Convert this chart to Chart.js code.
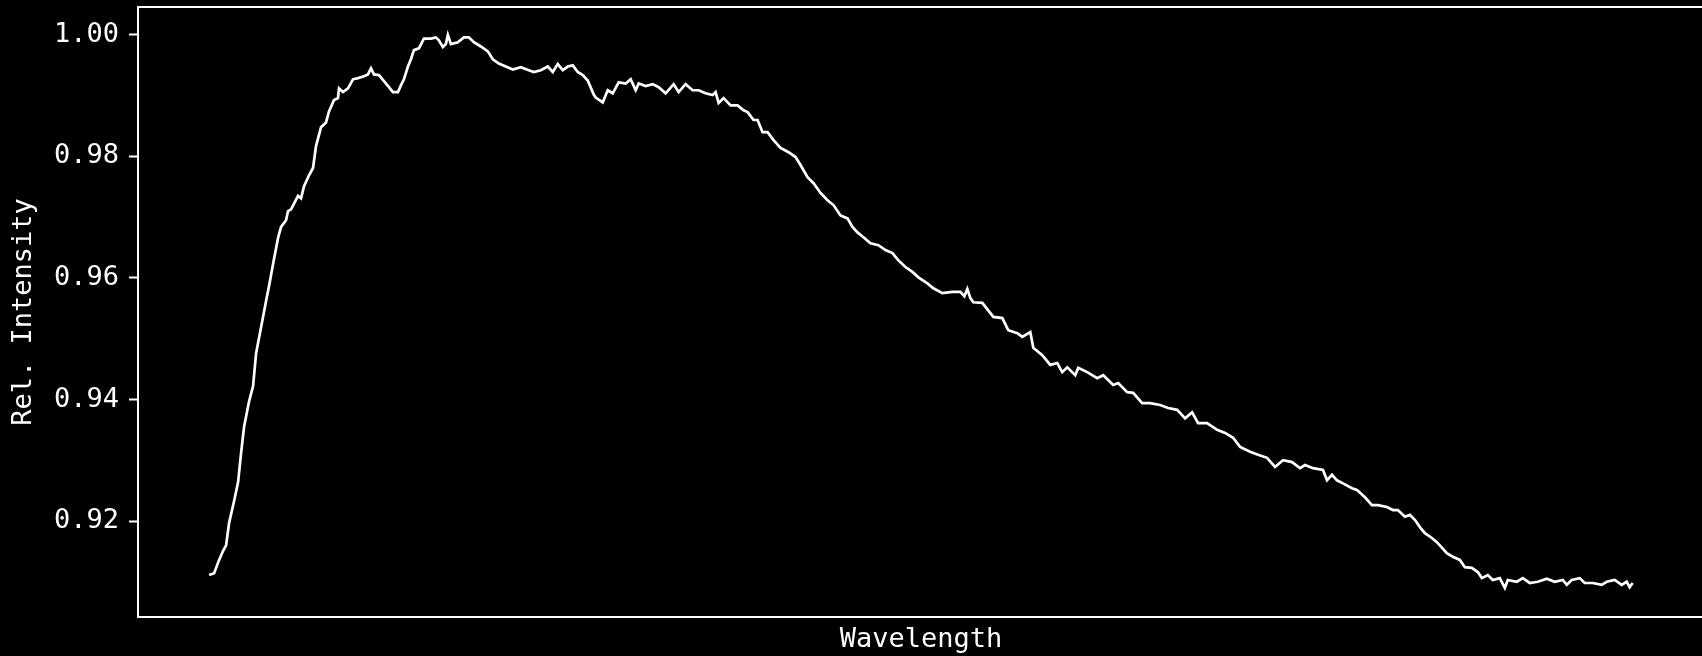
<!DOCTYPE html>
<html>
<head>
<meta charset="utf-8">
<title>Relative intensity spectrum</title>
<script src="https://cdn.jsdelivr.net/npm/chart.js@4/dist/chart.umd.min.js"></script>
<style>
  html, body { margin: 0; padding: 0; background: #000; overflow: hidden; }
  #wrap { width: 1706px; height: 656px; position: relative; }
</style>
</head>
<body>
<div id="wrap"><canvas id="spectrum"></canvas></div>
<script>
// Sampled spectrum: wavelength (nm) and intensity normalised to the peak.
const wavelength = [
  400.0, 401.25, 402.5, 403.5, 404.25, 405.0, 406.25, 407.25, 408.0, 408.75,
  410.0, 411.0, 411.75, 413.0, 414.25, 415.0, 416.0, 417.25, 418.0, 419.25,
  419.75, 420.5, 422.25, 423.0, 423.75, 425.0, 426.0, 426.75, 428.0, 429.25,
  430.0, 431.25, 432.25, 432.5, 433.5, 434.75, 436.0, 437.25, 438.75, 439.75,
  440.5, 441.25, 442.5, 443.75, 445.0, 446.0, 447.25, 448.0, 448.75, 449.75,
  450.5, 451.25, 452.5, 453.75, 455.5, 456.75, 457.5, 458.5, 459.25, 459.75,
  460.5, 462.25, 463.75, 465.0, 466.25, 468.0, 469.75, 471.0, 472.5, 474.25,
  476.0, 478.0, 480.0, 481.25, 483.0, 484.75, 486.0, 487.25, 488.5, 489.75,
  491.0, 492.25, 493.5, 494.75, 496.25, 496.75, 498.5, 499.75, 501.0, 502.5,
  504.25, 505.5, 506.75, 507.5, 509.25, 511.0, 512.5, 514.25, 516.25, 517.5,
  519.25, 521.0, 522.5, 524.25, 526.0, 526.75, 527.5, 528.75, 530.5, 532.25,
  533.75, 534.75, 536.25, 537.25, 538.5, 539.75, 541.25, 543.0, 545.0, 546.75,
  548.0, 549.75, 551.25, 553.0, 554.75, 556.25, 558.0, 559.75, 561.0, 562.25,
  563.75, 565.5, 567.5, 569.25, 571.0, 572.5, 574.25, 576.0, 577.5, 579.75,
  581.25, 583.5, 586.0, 588.0, 589.0, 589.75, 590.5, 591.25, 593.5, 596.25,
  598.5, 600.0, 602.25, 603.5, 605.5, 606.25, 608.5, 610.5, 612.25, 613.5,
  614.75, 616.75, 617.5, 619.75, 622.25, 623.75, 626.25, 627.5, 629.75, 631.25,
  633.5, 635.5, 638.0, 640.0, 642.25, 644.25, 646.0, 647.5, 649.75, 652.25,
  654.25, 656.25, 658.0, 660.5, 662.5, 664.75, 666.75, 668.75, 671.0, 673.0,
  674.25, 676.25, 678.75, 679.75, 681.0, 682.25, 683.75, 686.0, 687.25, 689.25,
  691.0, 692.5, 694.75, 696.25, 697.5, 699.25, 700.5, 701.75, 703.0, 704.25,
  706.0, 707.25, 708.0, 709.75, 711.25, 713.0, 714.25, 716.0, 717.5, 718.5,
  720.0, 721.25, 723.0, 724.25, 725.0, 727.25, 728.75, 730.5, 732.5, 734.75,
  736.75, 738.75, 739.75, 741.0, 743.0, 744.25, 746.25, 748.5, 749.75, 751.75,
  753.5, 754.75, 755.5, 756.25
];

const intensity = [
  0.9111, 0.9114, 0.9136, 0.9151, 0.9160, 0.9197, 0.9233, 0.9264, 0.9312, 0.9355,
  0.9397, 0.9422, 0.9476, 0.9519, 0.9562, 0.9587, 0.9623, 0.9666, 0.9684, 0.9695,
  0.9710, 0.9713, 0.9735, 0.9731, 0.9751, 0.9769, 0.9781, 0.9817, 0.9848, 0.9856,
  0.9874, 0.9893, 0.9896, 0.9912, 0.9906, 0.9912, 0.9927, 0.9929, 0.9932, 0.9935,
  0.9945, 0.9935, 0.9934, 0.9924, 0.9914, 0.9906, 0.9906, 0.9917, 0.9927, 0.9948,
  0.9960, 0.9975, 0.9978, 0.9994, 0.9994, 0.9996, 0.9991, 0.9980, 0.9985, 1.0000,
  0.9985, 0.9988, 0.9996, 0.9996, 0.9988, 0.9981, 0.9973, 0.9960, 0.9953, 0.9948,
  0.9943, 0.9947, 0.9942, 0.9939, 0.9942, 0.9948, 0.9939, 0.9952, 0.9942, 0.9948,
  0.9950, 0.9939, 0.9934, 0.9925, 0.9902, 0.9897, 0.9889, 0.9909, 0.9904, 0.9922,
  0.9920, 0.9927, 0.9909, 0.9920, 0.9916, 0.9919, 0.9914, 0.9904, 0.9919, 0.9906,
  0.9919, 0.9909, 0.9909, 0.9904, 0.9901, 0.9906, 0.9888, 0.9896, 0.9884, 0.9884,
  0.9876, 0.9873, 0.9860, 0.9860, 0.9840, 0.9840, 0.9827, 0.9814, 0.9807, 0.9799,
  0.9786, 0.9766, 0.9756, 0.9740, 0.9728, 0.9720, 0.9703, 0.9698, 0.9684, 0.9675,
  0.9667, 0.9657, 0.9654, 0.9646, 0.9641, 0.9629, 0.9618, 0.9610, 0.9601, 0.9591,
  0.9583, 0.9575, 0.9577, 0.9577, 0.9570, 0.9582, 0.9567, 0.9560, 0.9559, 0.9536,
  0.9534, 0.9514, 0.9509, 0.9503, 0.9511, 0.9485, 0.9473, 0.9457, 0.9460, 0.9445,
  0.9453, 0.9440, 0.9452, 0.9445, 0.9435, 0.9440, 0.9424, 0.9427, 0.9412, 0.9411,
  0.9394, 0.9394, 0.9391, 0.9386, 0.9383, 0.9369, 0.9379, 0.9361, 0.9361, 0.9350,
  0.9345, 0.9337, 0.9322, 0.9314, 0.9309, 0.9304, 0.9289, 0.9300, 0.9297, 0.9287,
  0.9292, 0.9287, 0.9284, 0.9267, 0.9276, 0.9267, 0.9262, 0.9254, 0.9251, 0.9239,
  0.9226, 0.9226, 0.9223, 0.9218, 0.9218, 0.9207, 0.9210, 0.9202, 0.9190, 0.9180,
  0.9172, 0.9165, 0.9160, 0.9147, 0.9141, 0.9136, 0.9124, 0.9123, 0.9116, 0.9106,
  0.9111, 0.9103, 0.9106, 0.9090, 0.9103, 0.9100, 0.9106, 0.9098, 0.9100, 0.9105,
  0.9100, 0.9103, 0.9095, 0.9103, 0.9106, 0.9098, 0.9098, 0.9095, 0.9100, 0.9103,
  0.9095, 0.9100, 0.9091, 0.9098
];

const yTickValues = [0.92, 0.94, 0.96, 0.98, 1.00];
const xLabel = 'Wavelength';
const yLabel = 'Rel. Intensity';

const FONT = { family: "'DejaVu Sans Mono', monospace", size: 27 };
const FG = '#ffffff';

// Closed rectangular frame around the plotting area.
const framePlugin = {
  id: 'frame',
  afterDatasetsDraw(chart) {
    const { ctx, chartArea: a } = chart;
    ctx.save();
    ctx.strokeStyle = FG;
    ctx.lineWidth = 2;
    ctx.strokeRect(a.left, a.top, a.right - a.left, a.bottom - a.top);
    ctx.restore();
  }
};

new Chart(document.getElementById('spectrum'), {
  type: 'line',
  data: {
    datasets: [{
      data: wavelength.map((w, i) => ({ x: w, y: intensity[i] })),
      borderColor: FG,
      borderWidth: 2.7,
      pointRadius: 0,
      tension: 0,
      fill: false
    }]
  },
  options: {
    responsive: true,
    maintainAspectRatio: false,
    animation: false,
    layout: { padding: { top: 7, right: 2, left: 0, bottom: 0 } },
    plugins: { legend: { display: false }, tooltip: { enabled: false } },
    scales: {
      x: {
        type: 'linear',
        min: 382.2,
        max: 774.1,
        ticks: { display: false },
        grid: { display: false },
        border: { display: false },
        title: { display: true, text: xLabel, color: FG, font: FONT, padding: { top: 0, bottom: 0 } },
        afterFit(scale) {
          scale.height = 39;
          scale.paddingLeft = 0;
          scale.paddingRight = 0;
        }
      },
      y: {
        type: 'linear',
        min: 0.9042,
        max: 1.0046,
        afterBuildTicks(scale) { scale.ticks = yTickValues.map(v => ({ value: v })); },
        ticks: { color: FG, font: FONT, padding: 10, callback: v => Number(v).toFixed(2) },
        grid: { drawOnChartArea: false, drawTicks: true, tickLength: 9, tickWidth: 2, tickColor: FG, color: FG },
        border: { display: false },
        title: { display: true, text: yLabel, color: FG, font: FONT, padding: { top: 8, bottom: 0 } },
        afterFit(scale) {
          scale.width = 138;
          // tick labels sit well inside the range, so no extra room above/below
          scale.paddingTop = 0;
          scale.paddingBottom = 0;
        }
      }
    }
  },
  plugins: [framePlugin]
});
</script>
</body>
</html>
